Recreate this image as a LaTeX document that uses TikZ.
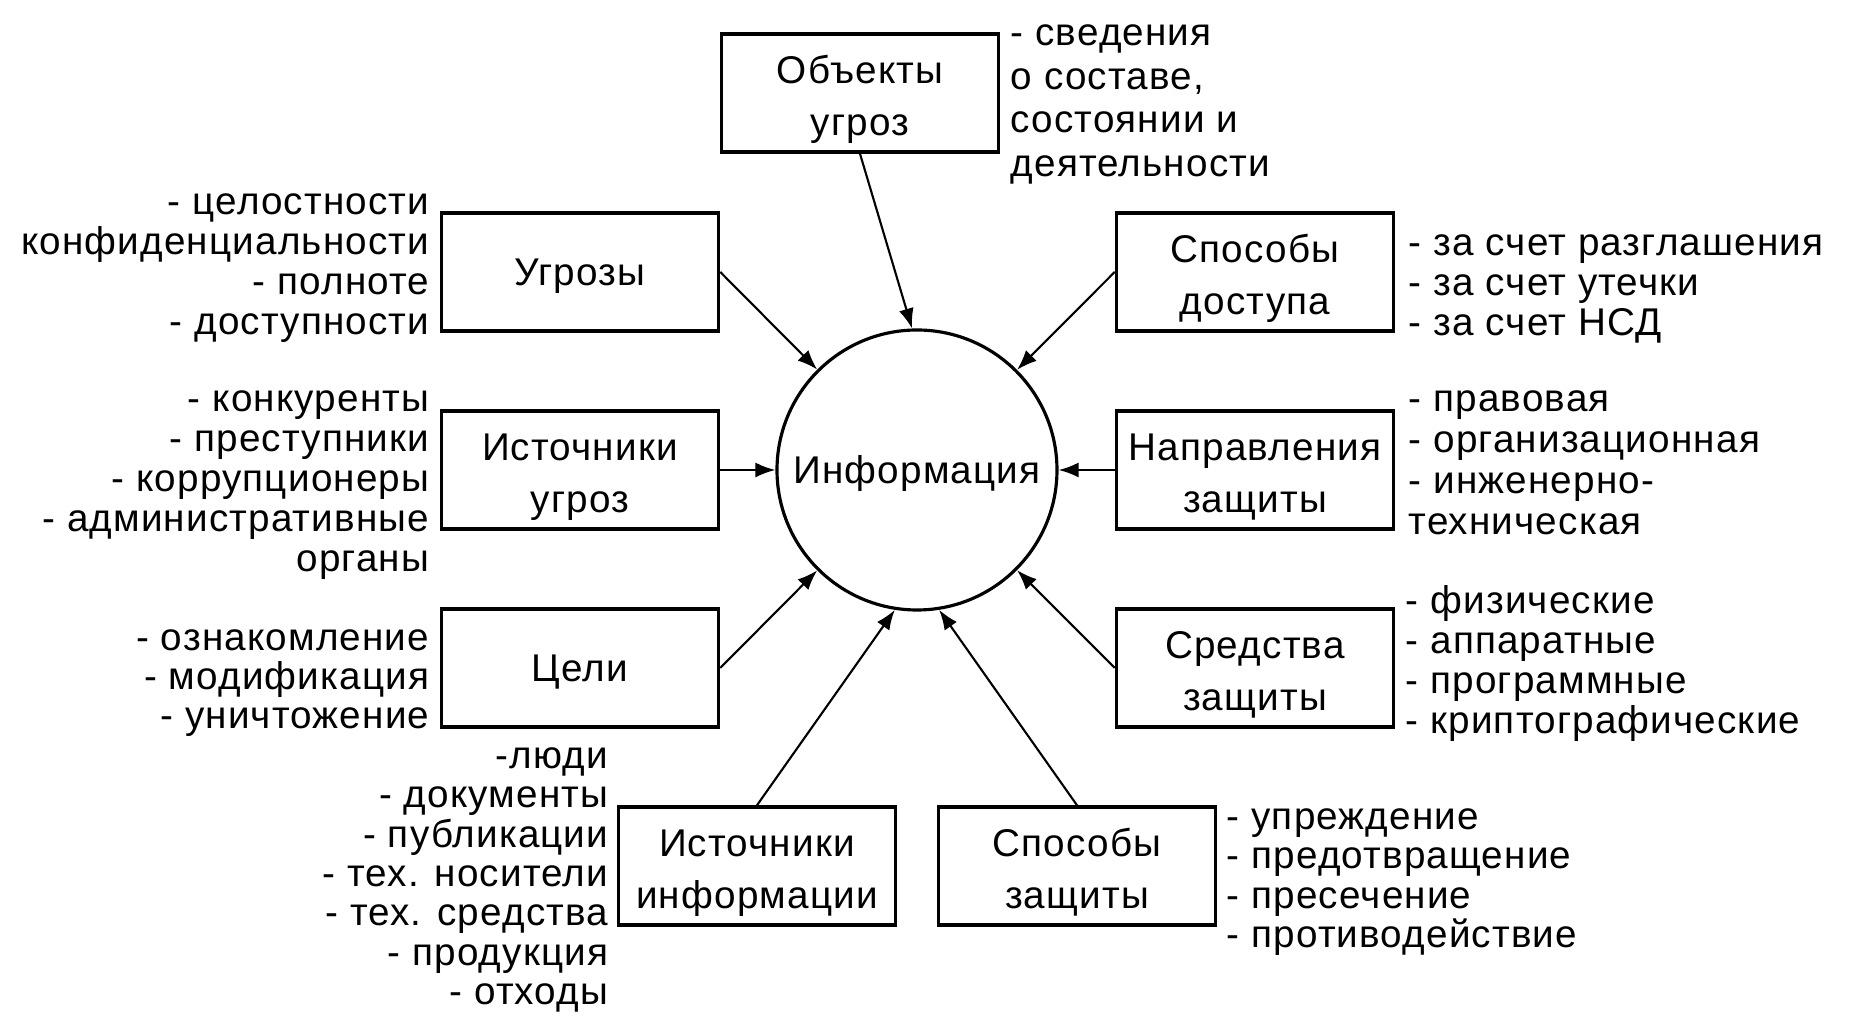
\documentclass[tikz,border=0pt]{standalone}
\usepackage{fontspec}
\setmainfont[LetterSpace=3]{Liberation Sans}
\usetikzlibrary{arrows.meta,positioning}

\begin{document}
\begin{tikzpicture}[
        box/.style={draw,line width=1pt,minimum width=2.77cm,minimum height=1.18cm,align=center,inner sep=0pt,font=\fontsize{11}{14.8}\selectfont},
        onebox/.style={box,execute at begin node=\rule{0pt}{10pt}},
        tallbox/.style={box,text height=24pt,text depth=0pt},
        info/.style={draw,circle,line width=0.9pt,minimum size=2.8cm,inner sep=0pt,font=\fontsize{11}{13}\selectfont,execute at begin node=\rule{0pt}{10pt}},
        link/.style={->,>={Latex[length=2mm,width=1.5mm]},line width=0.6pt},
        listl/.style={align=left,anchor=north west,inner sep=0pt,font=\fontsize{11}{11.4}\selectfont,execute at begin node=\strut},
        listr/.style={align=right,anchor=north east,inner sep=0pt,font=\fontsize{11}{11.4}\selectfont,execute at begin node=\strut}
    ]

        \useasboundingbox (0,0) rectangle (18.72,-10.23);

        \node[info] (info) at (9.17,-4.70) {Информация};

        \node[tallbox] (obj) at (8.60,-0.93) {Объекты\\угроз};
        \node[onebox] (threat) at (5.80,-2.72) {Угрозы};
        \node[tallbox] (tsrc) at (5.80,-4.70) {Источники\\угроз};
        \node[onebox] (goal) at (5.80,-6.68) {Цели};
        \node[tallbox] (isrc) at (7.57,-8.66) {Источники\\информации};
        \node[tallbox] (pmeth) at (10.77,-8.66) {Способы\\защиты};
        \node[tallbox] (access) at (12.55,-2.72) {Способы\\доступа};
        \node[tallbox] (dir) at (12.55,-4.70) {Направления\\защиты};
        \node[tallbox] (means) at (12.55,-6.68) {Средства\\защиты};

        \draw[link] (obj.south) -- (info.92);
        \draw[link] (threat.east) -- (info);
        \draw[link] (tsrc) -- (info);
        \draw[link] (goal.east) -- (info);
        \draw[link] (isrc.north) -- (info.261);
        \draw[link] (pmeth.north) -- (info.279);
        \draw[link] (means.west) -- (info);
        \draw[link] (dir) -- (info);
        \draw[link] (access.west) -- (info);

        \node[listl,font=\fontsize{11}{12.4}\selectfont] (objlist) at (10.10,-0.24) {- сведения\\о составе,\\состоянии и\\деятельности};
        \node[listr] (threatlist) at (4.30,-1.93) {- целостности\\конфиденциальности\\- полноте\\- доступности};
        \node[listr] (tsrclist) at (4.30,-3.90) {- конкуренты\\- преступники\\- коррупционеры\\- административные\\органы};
        \node[listr,font=\fontsize{11}{11.1}\selectfont] (goallist) at (4.30,-6.29) {- ознакомление\\- модификация\\- уничтожение};
        \node[listr,font=\fontsize{11}{11.2}\selectfont] (isrclist) at (6.09,-7.47) {-люди\\- документы\\- публикации\\- тех. носители\\- тех. средства\\- продукция\\- отходы};
        \node[listl] (accesslist) at (14.08,-2.34) {- за счет разглашения\\- за счет утечки\\- за счет НСД};
        \node[listl,font=\fontsize{11}{11.7}\selectfont] (dirlist) at (14.08,-3.90) {- правовая\\- организационная\\- инженерно-\\техническая};
        \node[listl] (meanslist) at (14.05,-5.85) {- физические\\- аппаратные\\- программные\\- криптографические};
        \node[listl,font=\fontsize{11}{11.2}\selectfont] (pmethlist) at (12.26,-8.08) {- упреждение\\- предотвращение\\- пресечение\\- противодействие};
      \end{tikzpicture}
\end{document}
